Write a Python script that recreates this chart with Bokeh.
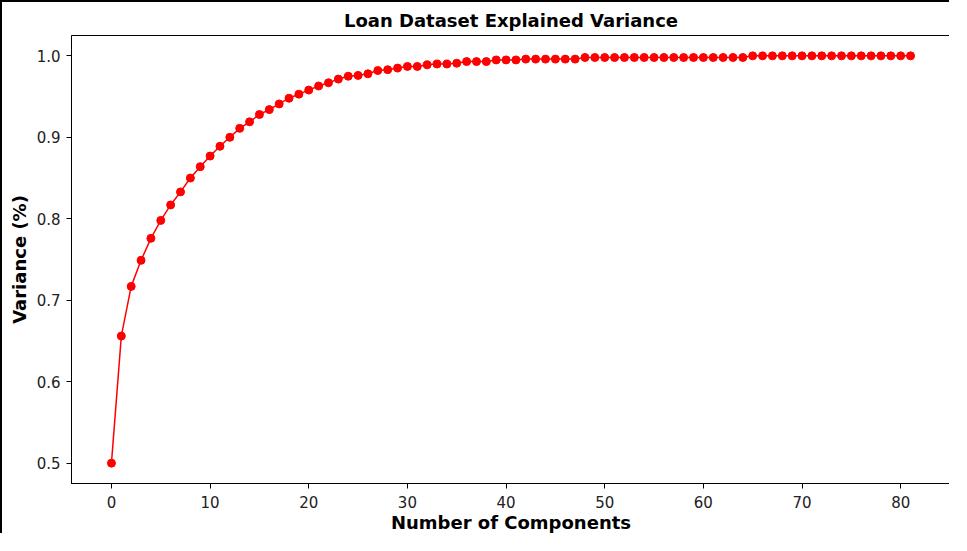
from bokeh.plotting import figure
from bokeh.models import Range1d, FixedTicker, PrintfTickFormatter
from bokeh.embed import file_html
from bokeh.resources import INLINE

components = list(range(82))
variance = [
    0.500, 0.656, 0.717, 0.749, 0.776, 0.798, 0.817, 0.833, 0.850, 0.864,
    0.877, 0.889, 0.900, 0.911, 0.919, 0.928, 0.934, 0.941, 0.948, 0.953,
    0.958, 0.963, 0.967, 0.9715, 0.975, 0.976, 0.978, 0.982, 0.983, 0.985,
    0.987, 0.987, 0.989, 0.990, 0.990, 0.991, 0.993, 0.993, 0.993, 0.995,
    0.995, 0.995, 0.996, 0.996, 0.996, 0.996, 0.996, 0.996, 0.998, 0.998,
    0.998, 0.998, 0.998, 0.998, 0.998, 0.998, 0.998, 0.998, 0.998, 0.998,
    0.998, 0.998, 0.998, 0.998, 0.998, 1.000, 1.000, 1.000, 1.000, 1.000,
    1.000, 1.000, 1.000, 1.000, 1.000, 1.000, 1.000, 1.000, 1.000, 1.000,
    1.000, 1.000,
]
x_ticks = [0, 10, 20, 30, 40, 50, 60, 70, 80]
y_ticks = [0.5, 0.6, 0.7, 0.8, 0.9, 1.0]

title_text = "Loan Dataset Explained Variance"
x_label = "Number of Components"
y_label = "Variance (%)"

FONT = "DejaVu Sans"

p = figure(
    width=949, height=533,
    output_backend="svg", toolbar_location=None,
    title=title_text,
    x_range=Range1d(-4.05, 85.05), y_range=Range1d(0.475, 1.025),
    min_border_left=69, min_border_right=1, min_border_top=33, min_border_bottom=50,
)
p.styles = {"border-top": "2px solid black", "border-left": "2px solid black"}

p.title.text_font = FONT
p.title.text_font_size = "18px"
p.title.text_font_style = "bold"
p.title.align = "center"
p.title.text_color = "black"

p.grid.visible = False
p.outline_line_color = "black"
p.outline_line_width = 1

for ax in (p.xaxis[0], p.yaxis[0]):
    ax.axis_line_color = "black"
    ax.major_tick_line_color = "black"
    ax.major_tick_in = 0
    ax.major_tick_out = 5
    ax.minor_tick_line_color = None
    ax.major_label_text_font = FONT
    ax.major_label_text_font_size = "15px"
    ax.major_label_text_color = "#222222"
    ax.axis_label_text_font = FONT
    ax.axis_label_text_font_size = "18px"
    ax.axis_label_text_font_style = "bold"
    ax.axis_label_text_color = "black"

p.xaxis.ticker = FixedTicker(ticks=x_ticks)
p.yaxis.ticker = FixedTicker(ticks=y_ticks)
p.yaxis.formatter = PrintfTickFormatter(format="%.1f")
p.xaxis.axis_label = x_label
p.yaxis.axis_label = y_label
p.xaxis.major_label_standoff = 7
p.yaxis.major_label_standoff = 6
p.xaxis.axis_label_standoff = 1
p.yaxis.axis_label_standoff = 4

p.line(components, variance, line_color="red", line_width=1.5)
p.scatter(components, variance, size=8, fill_color="red", line_color="red")

open("out.html", "w").write(file_html(p, INLINE))
